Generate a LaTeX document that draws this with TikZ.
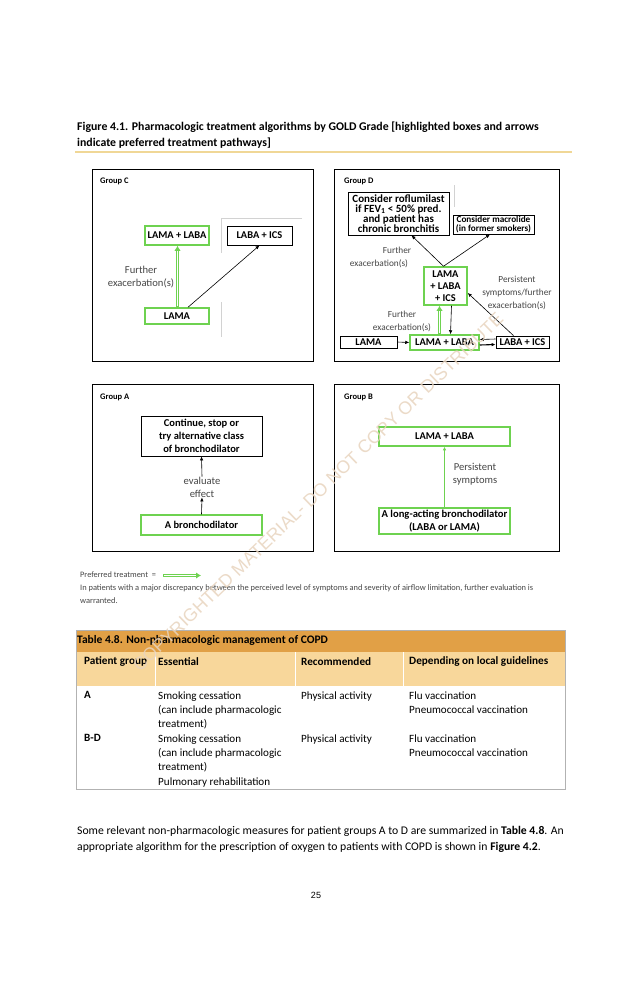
\documentclass[tikz,border=0pt]{standalone}
\usepackage{fontspec}
\setmainfont{Carlito}
\newfontfamily\wmfont{Liberation Sans}
\usetikzlibrary{arrows.meta,shadows}
\definecolor{gr}{RGB}{110,210,80}
\definecolor{lblc}{RGB}{70,70,70}
\definecolor{goldline}{RGB}{240,215,150}
\definecolor{tabhead}{RGB}{225,160,70}
\definecolor{tabsub}{RGB}{248,215,155}
\definecolor{wmc}{RGB}{232,212,190}
\newcommand\boxfont{\bfseries\fontsize{10.4}{11}\selectfont}
\begin{document}
\begin{tikzpicture}[x=1pt,y=-1pt,
  grp/.style={draw=black, line width=0.9pt, fill=white, inner sep=0pt,
    drop shadow={shadow xshift=0.9pt, shadow yshift=-0.9pt, fill=gray!70, opacity=1}},
  gbox/.style={draw=gr, line width=1.5pt, fill=white, inner sep=0pt, align=center, font=\boxfont,
    drop shadow={shadow xshift=1pt, shadow yshift=-1pt, fill=gray!35, opacity=1}},
  bbox/.style={draw=black, line width=0.8pt, fill=white, inner sep=0pt, align=center, font=\boxfont,
    drop shadow={shadow xshift=1.2pt, shadow yshift=-1.2pt, fill=gray!60, opacity=1}},
  glabel/.style={font=\bfseries\fontsize{8.5}{10}\selectfont, anchor=west, inner sep=0pt},
  lbl/.style={text=lblc, font=\fontsize{10.6}{13}\selectfont, align=center, inner sep=0pt},
  lbld/.style={text=lblc, font=\fontsize{9.3}{13}\selectfont, align=center, inner sep=0pt},
  blk/.style={draw=black, line width=0.6pt, -{Latex[length=4pt, width=3.5pt]}},
  prefout/.style={draw=gr, line width=3pt, -{Latex[length=5pt, width=6.5pt]}},
  prefin/.style={draw=white, line width=1pt, shorten >=5.5pt, shorten <=1pt},
  artf/.style={draw=gray!35, line width=0.5pt},
  txt/.style={inner sep=0pt, anchor=north west, align=left, font=\fontsize{11.1}{14.2}\selectfont},
  hdr/.style={inner sep=0pt, anchor=west, font=\bfseries\fontsize{11.2}{14}\selectfont}
]
\useasboundingbox (0,0) rectangle (638,986);
\fill[white] (0,0) rectangle (638,986);

% caption
\node[inner sep=0pt, anchor=west, font=\bfseries\fontsize{11.8}{12}\selectfont] (cap1) at (77,127)
  {Figure 4.1. Pharmacologic treatment algorithms by GOLD Grade [highlighted boxes and arrows};
\node[inner sep=0pt, anchor=west, font=\bfseries\fontsize{11.8}{12}\selectfont] (cap2) at (77,143)
  {indicate preferred treatment pathways]};
\coordinate (gl1) at (75,152);
\coordinate (gl2) at (572,152);
\draw[goldline, line width=1.2pt] (gl1) -- (gl2);

% group frames
\node[grp, minimum width=221, minimum height=192] (grpC) at (202.5,265) {};
\node[grp, minimum width=225, minimum height=192] (grpD) at (446.5,265) {};
\node[grp, minimum width=221, minimum height=167] (grpA) at (202.5,467.5) {};
\node[grp, minimum width=225, minimum height=167] (grpB) at (446.5,467.5) {};
\node[glabel] (labC) at (100,181) {Group C};
\node[glabel] (labD) at (344,181) {Group D};
\node[glabel] (labA) at (100,397) {Group A};
\node[glabel] (labB) at (344,397) {Group B};

% faint artefact lines
\coordinate (a1) at (221,218); \coordinate (a2) at (302,218); \coordinate (a3) at (221,253);
\coordinate (a4) at (221,302); \coordinate (a5) at (221,337);
\coordinate (a6) at (454,185); \coordinate (a7) at (454,207);
\draw[artf] (a2) -- (a1) -- (a3);
\draw[artf] (a4) -- (a5);
\draw[artf] (a6) -- (a7);

% Group C
\node[gbox, minimum width=64, minimum height=19] (lamalabaC) at (177,235.5) {LAMA + LABA};
\node[bbox, minimum width=65, minimum height=19] (labaicsC) at (259.5,235.5) {LABA + ICS};
\node[gbox, minimum width=64, minimum height=16] (lamaC) at (177,316) {LAMA};
\node[lbl] (furtherC) at (141,277) {Further\\exacerbation(s)};
\draw[prefout] ([xshift=0.5pt]lamaC.north) -- ([xshift=0.5pt]lamalabaC.south);
\draw[prefin] ([xshift=0.5pt]lamaC.north) -- ([xshift=0.5pt]lamalabaC.south);
\draw[blk] ([xshift=11pt]lamaC.north) -- (labaicsC.south);

% Group D
\node[bbox, minimum width=101, minimum height=43, font=\bfseries\fontsize{11}{10.2}\selectfont] (rof) at (398.5,213.5)
  {Consider roflumilast\\if FEV\textsubscript{1} < 50\% pred.\\and patient has\\chronic bronchitis};
\node[bbox, minimum width=81, minimum height=19, font=\bfseries\fontsize{9.2}{9.4}\selectfont] (mac) at (493.5,224.5)
  {Consider macrolide\\(in former smokers)};
\node[gbox, minimum width=43, minimum height=38, font=\bfseries\fontsize{10.4}{12.3}\selectfont] (triple) at (445.5,286)
  {LAMA\\+ LABA\\+ ICS};
\node[bbox, minimum width=57, minimum height=12] (lamaD) at (368.5,342) {LAMA};
\node[gbox, minimum width=69, minimum height=15] (lamalabaD) at (444.5,342.5) {LAMA + LABA};
\node[bbox, minimum width=53, minimum height=12] (labaicsD) at (522.5,342) {LABA + ICS};
\node[lbld] (furD1a) at (397,250) {Further};
\node[lbld] (furD1b) at (379,264) {exacerbation(s)};
\node[lbld] (furD2) at (402,321.5) {Further\\exacerbation(s)};
\node[lbld] (persD) at (517,293) {Persistent\\symptoms/further\\exacerbation(s)};
\draw[blk] ([xshift=-2pt]triple.north) -- ([xshift=13pt]rof.south);
\draw[blk] ([xshift=-2pt]triple.north) -- ([xshift=-3.5pt]mac.south);
\draw[prefout] ([xshift=-5pt]lamalabaD.north) -- ([xshift=-6pt]triple.south);
\draw[prefin] ([xshift=-5pt]lamalabaD.north) -- ([xshift=-6pt]triple.south);
\draw[blk] ([xshift=6pt]triple.south) -- ([xshift=6pt]lamalabaD.north);
\draw[blk] (lamaD.east) -- (lamalabaD.west);
\draw[blk] ([yshift=3pt]labaicsD.west) -- ([yshift=3pt]lamalabaD.east);
\draw[blk, line width=1.1pt] ([yshift=-2.5pt]lamalabaD.east) -- ([yshift=-2.5pt]labaicsD.west);
\draw[blk] ([xshift=-9pt]labaicsD.north) -- ([yshift=-7pt]triple.east);

% Group A
\node[bbox, minimum width=121, minimum height=40, font=\bfseries\fontsize{10.5}{13}\selectfont] (cont) at (201.5,436)
  {Continue, stop or\\try alternative class\\of bronchodilator};
\node[gbox, minimum width=121, minimum height=20] (bronch) at (201.5,525) {A bronchodilator};
\node[lbl] (evalA) at (202,487) {evaluate\\effect};
\draw[blk] (bronch.north) -- (evalA.south);
\draw[blk] (evalA.north) -- (cont.south);

% Group B
\node[gbox, minimum width=131, minimum height=19] (lamalabaB) at (444.5,436.5) {LAMA + LABA};
\node[gbox, minimum width=131, minimum height=26, font=\bfseries\fontsize{10.6}{12.5}\selectfont] (longB) at (444.5,521)
  {A long-acting bronchodilator\\(LABA or LAMA)};
\node[lbl] (persB) at (475,474.5) {Persistent\\symptoms};
\draw[draw=gr, line width=1.2pt, -{Latex[length=3.5pt, width=3.5pt]}] (longB.north) -- (lamalabaB.south);

% legend
\node[inner sep=0pt, anchor=west, text=lblc, font=\fontsize{8.3}{9}\selectfont] (legtxt) at (80,575) {Preferred treatment\ \ =};
\coordinate (legA) at (163,575.5);
\coordinate (legB) at (201,575.5);
\draw[prefout] (legA) -- (legB);
\draw[prefin] (legA) -- (legB);
\node[inner sep=0pt, anchor=north west, align=left, text=lblc, font=\fontsize{8.4}{13}\selectfont] (note) at (80,584)
  {In patients with a major discrepancy between the perceived level of symptoms and severity of airflow limitation, further evaluation is\\warranted.};

% table
\coordinate (t1) at (76,630); \coordinate (t2) at (565,652);
\coordinate (t3) at (76,652); \coordinate (t4) at (565,686);
\coordinate (t5) at (565,789);
\fill[tabhead] (t1) rectangle (t2);
\fill[tabsub] (t3) rectangle (t4);
\draw[white, line width=0.6pt] (155,652) -- (155,686) (295,652) -- (295,686) (403,652) -- (403,686);
\draw[gray!60, line width=0.9pt] (t1) rectangle (t5);
\node[inner sep=0pt, anchor=west, font=\bfseries\fontsize{11.5}{12}\selectfont] (tabtitle) at (77,640)
  {Table 4.8. Non-pharmacologic management of COPD};
\node[hdr] (h1) at (84,662) {Patient group};
\node[hdr] (h2) at (158,662) {Essential};
\node[hdr] (h3) at (301,662) {Recommended};
\node[hdr] (h4) at (409,662) {Depending on local guidelines};
\node[txt, font=\bfseries\fontsize{11.1}{14.2}\selectfont] (rA) at (84,691.5) {A};
\node[txt] (eA) at (158,691.5) {Smoking cessation\\(can include pharmacologic\\treatment)};
\node[txt] (pA) at (301,691.5) {Physical activity};
\node[txt] (dA) at (409,691.5) {Flu vaccination\\Pneumococcal vaccination};
\node[txt, font=\bfseries\fontsize{11.1}{14.2}\selectfont] (rB) at (84,734.5) {B-D};
\node[txt] (eB) at (158,734.5) {Smoking cessation\\(can include pharmacologic\\treatment)\\Pulmonary rehabilitation};
\node[txt] (pB) at (301,734.5) {Physical activity};
\node[txt] (dB) at (409,734.5) {Flu vaccination\\Pneumococcal vaccination};

% body text
\node[inner sep=0pt, anchor=west, font=\fontsize{11.7}{14}\selectfont] (body1) at (77,831)
  {Some relevant non-pharmacologic measures for patient groups A to D are summarized in \textbf{Table 4.8}. An};
\node[inner sep=0pt, anchor=west, font=\fontsize{11.7}{14}\selectfont] (body2) at (77,847)
  {appropriate algorithm for the prescription of oxygen to patients with COPD is shown in \textbf{Figure 4.2}.};
\node[inner sep=0pt, font=\wmfont\fontsize{9}{10}\selectfont] (pagenum) at (316,895) {25};

% watermark
\node[inner sep=0pt, rotate=44, text=wmc, opacity=0.85, font=\wmfont\fontsize{18}{20}\selectfont] (wm) at (318,492)
  {COPYRIGHTED MATERIAL- DO NOT COPY OR DISTRIBUTE};
\end{tikzpicture}
\end{document}
